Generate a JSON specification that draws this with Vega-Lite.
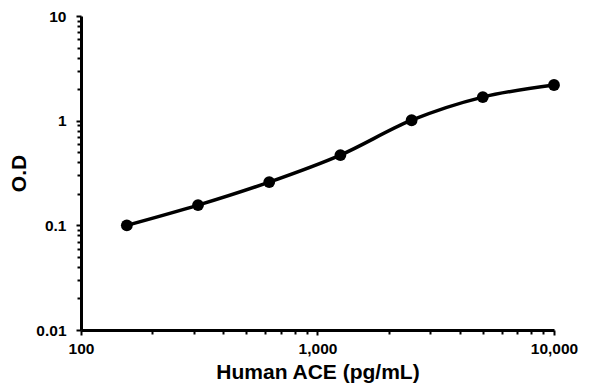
{
  "$schema": "https://vega.github.io/schema/vega-lite/v6.json",
  "autosize": {"type": "none"},
  "padding": {"left": 81, "top": 16, "right": 42, "bottom": 62},
  "width": 473,
  "height": 314,
  "background": "white",
  "config": {"view": {"stroke": null}, "font": "Liberation Sans"},
  "data": {"values": [
    {"conc": 156.25, "od": 0.1},
    {"conc": 312.5, "od": 0.156},
    {"conc": 625, "od": 0.259},
    {"conc": 1250, "od": 0.469},
    {"conc": 2500, "od": 1.01},
    {"conc": 5000, "od": 1.68},
    {"conc": 10000, "od": 2.19}
  ]},
  "encoding": {
    "x": {"field": "conc", "type": "quantitative",
      "scale": {"type": "log", "domain": [100, 10000], "nice": false},
      "axis": {
        "title": "Human ACE (pg/mL)",
        "titleFont": "Liberation Sans", "titleFontSize": 21, "titleFontWeight": "bold", "titleColor": "black",
        "titlePadding": 5,
        "values": [100,200,300,400,500,600,700,800,900,1000,2000,3000,4000,5000,6000,7000,8000,9000,10000],
        "labelExpr": "abs(log(datum.value)/LN10 - round(log(datum.value)/LN10)) < 0.000001 ? format(datum.value, ',') : ''",
        "labelFont": "Liberation Sans", "labelFontSize": 15.5, "labelFontWeight": "bold", "labelColor": "black",
        "labelPadding": 6, "labelFlush": false, "labelOverlap": false,
        "grid": false,
        "domainColor": "black", "domainWidth": 3,
        "tickColor": "black", "tickWidth": 2,
        "tickSize": {"condition": {"test": "abs(log(datum.value)/LN10 - round(log(datum.value)/LN10)) < 0.000001", "value": 5}, "value": 4}
      }},
    "y": {"field": "od", "type": "quantitative",
      "scale": {"type": "log", "domain": [0.01, 10], "nice": false},
      "axis": {
        "title": "O.D",
        "titleFont": "Liberation Sans", "titleFontSize": 21, "titleFontWeight": "bold", "titleColor": "black",
        "titlePadding": 6,
        "values": [0.01,0.02,0.03,0.04,0.05,0.06,0.07,0.08,0.09,0.1,0.2,0.3,0.4,0.5,0.6,0.7,0.8,0.9,1,2,3,4,5,6,7,8,9,10],
        "labelExpr": "abs(log(datum.value)/LN10 - round(log(datum.value)/LN10)) < 0.000001 ? format(datum.value, '~g') : ''",
        "labelFont": "Liberation Sans", "labelFontSize": 15.5, "labelFontWeight": "bold", "labelColor": "black",
        "labelPadding": 10, "labelFlush": false, "labelOverlap": false,
        "grid": false,
        "domainColor": "black", "domainWidth": 3,
        "tickColor": "black", "tickWidth": 2,
        "tickSize": {"condition": {"test": "abs(log(datum.value)/LN10 - round(log(datum.value)/LN10)) < 0.000001", "value": 5}, "value": 4}
      }}
  },
  "layer": [
    {"mark": {"type": "line", "interpolate": "monotone", "color": "black", "strokeWidth": 3.5}},
    {"mark": {"type": "point", "filled": true, "color": "black", "opacity": 1, "size": 140}}
  ]
}
